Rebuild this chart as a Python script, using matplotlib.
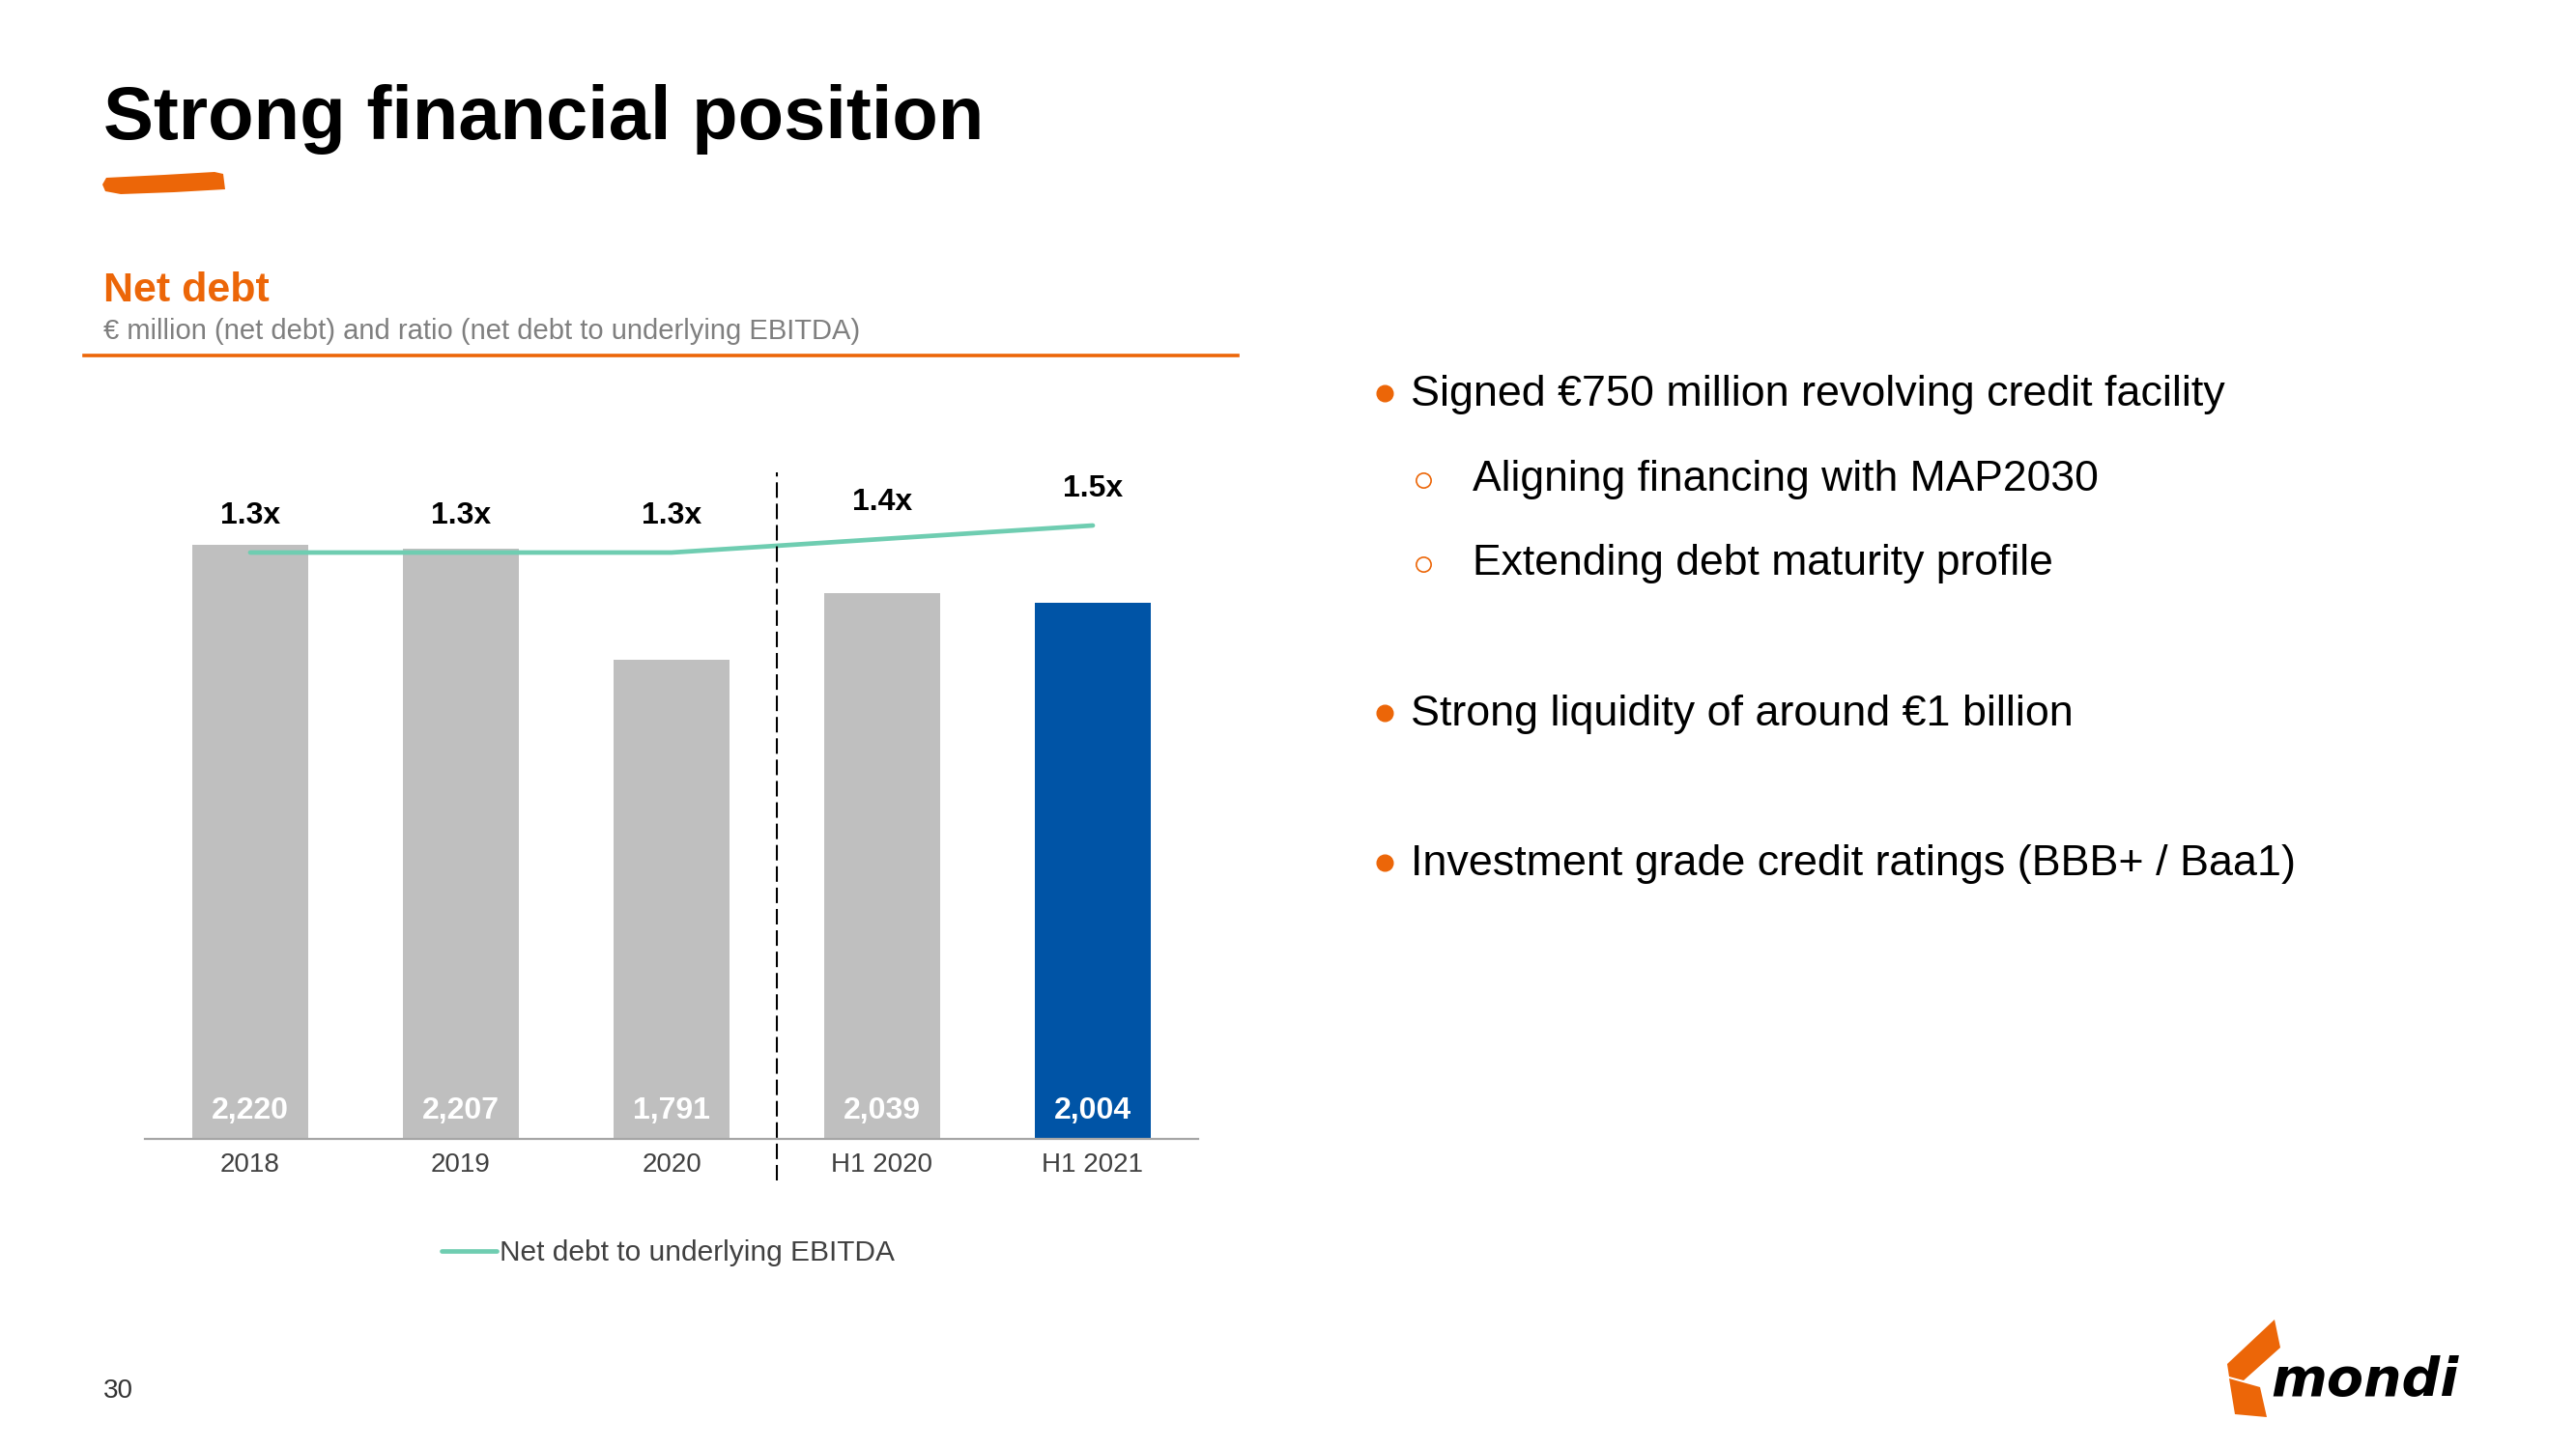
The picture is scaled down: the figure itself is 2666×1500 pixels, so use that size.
import numpy as np
import matplotlib
matplotlib.use("Agg")
import matplotlib.pyplot as plt
from matplotlib.patches import Polygon
from matplotlib.lines import Line2D

# data
categories = ["2018", "2019", "2020", "H1 2020", "H1 2021"]
net_debt = [2220, 2207, 1791, 2039, 2004]
ratio = [1.3, 1.3, 1.3, 1.4, 1.5]
bullets = ["Signed €750 million revolving credit facility",
           "Strong liquidity of around €1 billion",
           "Investment grade credit ratings (BBB+ / Baa1)"]
sub_bullets = ["Aligning financing with MAP2030",
               "Extending debt maturity profile"]

ORANGE = "#EC6608"
GREY_BAR = "#BFBFBF"
BLUE = "#0054A6"
TEAL = "#6FCDB1"

FONT = ["Liberation Sans", "DejaVu Sans"]

W, H = 2666, 1500
fig = plt.figure(figsize=(W / 100, H / 100), dpi=100)


def fx(x):
    return x / W


def fy(y):
    return 1 - y / H


# header
fig.text(fx(107), fy(144), "Strong financial position", fontsize=56,
         fontweight="bold", family=FONT, va="baseline")
brush = [(110, 184), (170, 181), (222, 178), (231, 180), (233, 196),
         (180, 199), (125, 201), (109, 198), (106, 191)]
fig.add_artist(Polygon([(fx(a), fy(b)) for a, b in brush], closed=True,
                       transform=fig.transFigure, color=ORANGE, lw=0))

fig.text(fx(107), fy(312), "Net debt", fontsize=31, fontweight="bold",
         color=ORANGE, family=FONT, va="baseline")
fig.text(fx(107), fy(351),
         "€ million (net debt) and ratio (net debt to underlying EBITDA)",
         fontsize=21, color="#7F7F7F", family=FONT, va="baseline")
fig.add_artist(Line2D([fx(87), fx(1281)], [fy(368), fy(368)],
                      transform=fig.transFigure, color=ORANGE, lw=2.6))

# chart
ax = fig.add_axes([fx(150), fy(1179), (1240 - 150) / W, (1179 - 480) / H])
x = np.arange(len(categories))
colors = [GREY_BAR] * 4 + [BLUE]
ax.bar(x, net_debt, width=0.555, color=colors, zorder=2)
ax.set_xlim(-0.5, 4.5)
ax.set_ylim(0, 2523)
for s in ["top", "left", "right"]:
    ax.spines[s].set_visible(False)
ax.spines["bottom"].set_color("#A6A6A6")
ax.spines["bottom"].set_linewidth(1.6)
ax.set_yticks([])
ax.set_xticks(x)
ax.set_xticklabels(categories, fontsize=20, color="#404040", family=FONT)
ax.tick_params(axis="x", length=0, pad=10)

for i, v in enumerate(net_debt):
    ax.annotate(f"{v:,}", (i, 0), xytext=(0, 21), textcoords="offset points",
                ha="center", va="center", color="white", fontsize=23,
                fontweight="bold", family=FONT)

ax2 = ax.twinx()
ax2.set_ylim(-3.036, 1.957)
ax2.axis("off")
ax2.plot(x, ratio, color=TEAL, lw=3.4, solid_capstyle="round",
         label="Net debt to underlying EBITDA")
for i, v in enumerate(ratio):
    ax2.annotate(f"{v:.1f}x", (i, v), xytext=(0, 27.4),
                 textcoords="offset points", ha="center", va="center",
                 fontsize=23, fontweight="bold", family=FONT)

ax2.axvline(2.5, ymin=-0.0615, ymax=0.987, color="black", lw=1.5,
            linestyle=(0, (7.7, 2.9)), clip_on=False, zorder=5)

leg = fig.legend(loc="center left", bbox_to_anchor=(fx(457), fy(1297)),
                 frameon=False, handlelength=1.9, handletextpad=0.1,
                 borderpad=0, borderaxespad=0,
                 prop={"family": FONT, "size": 21.5})
for t in leg.get_texts():
    t.set_color("#404040")

# bullets on the right
bullet_y = [420, 751, 906]
for txt, by in zip(bullets, bullet_y):
    fig.add_artist(Line2D([fx(1433)], [fy(by - 13)], marker="o",
                          markersize=12, color=ORANGE, lw=0,
                          transform=fig.transFigure))
    fig.text(fx(1460), fy(by), txt, fontsize=32.3, family=FONT,
             va="baseline", color="black")

sub_y = [508, 595]
for txt, by in zip(sub_bullets, sub_y):
    fig.add_artist(Line2D([fx(1473)], [fy(by - 11)], marker="o",
                          markersize=11, markerfacecolor="white",
                          markeredgecolor=ORANGE, markeredgewidth=1.2,
                          lw=0, transform=fig.transFigure))
    fig.text(fx(1524), fy(by), txt, fontsize=32, family=FONT,
             va="baseline", color="black")

# page number
fig.text(fx(107), fy(1447), "30", fontsize=20, color="#333333",
         family=FONT, va="baseline")

# logo
upper = [(2305, 1412), (2354, 1366), (2360, 1395), (2322, 1429), (2307, 1425)]
lower = [(2307, 1427), (2339, 1436), (2346, 1467), (2313, 1464)]
for shp in (upper, lower):
    fig.add_artist(Polygon([(fx(a), fy(b)) for a, b in shp], closed=True,
                           transform=fig.transFigure, color=ORANGE, lw=0))
fig.text(fx(2350), fy(1445), "mondi", fontsize=40, fontweight="bold",
         fontstyle="italic", family=["DejaVu Sans"], va="baseline",
         color="black")

fig.savefig("out.png", dpi=100, facecolor="white")
